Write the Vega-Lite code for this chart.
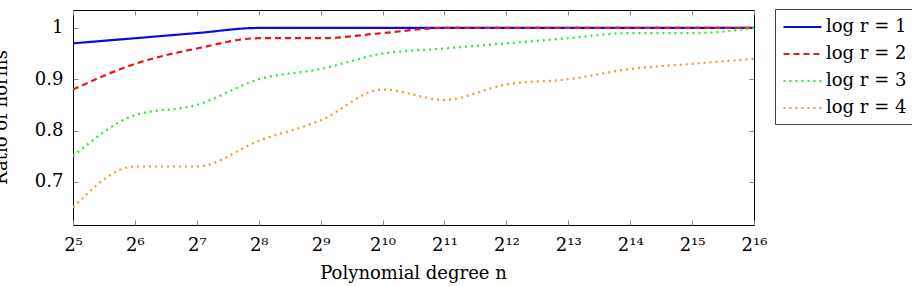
{
  "$schema": "https://vega.github.io/schema/vega-lite/v6.json",
  "autosize": {"type": "none"},
  "width": 681,
  "height": 215,
  "padding": {"left": 73, "top": 10, "right": 158, "bottom": 61},
  "background": "white",
  "config": {
    "view": {"stroke": "black", "strokeWidth": 1},
    "font": "DejaVu Serif",
    "axis": {
      "grid": false,
      "domain": false,
      "tickSize": -5,
      "tickColor": "#888888",
      "tickWidth": 1,
      "labelFont": "DejaVu Serif",
      "labelFontSize": 18,
      "labelColor": "black",
      "titleFont": "DejaVu Serif",
      "titleFontSize": 18,
      "titleFontWeight": "normal",
      "titleColor": "black"
    },
    "legend": {
      "orient": "none",
      "legendX": 702,
      "legendY": -1,
      "direction": "vertical",
      "strokeColor": "#444444",
      "fillColor": "white",
      "padding": 7,
      "cornerRadius": 0,
      "symbolType": "M-1,0H3",
      "symbolSize": 361,
      "symbolStrokeWidth": 2.2,
      "labelFont": "DejaVu Serif",
      "labelFontSize": 18,
      "labelColor": "black",
      "labelOffset": 22,
      "rowPadding": 7
    }
  },
  "data": {
    "values": [
      {"exp": 5, "ratio": 0.97, "s": "log r = 1"},
      {"exp": 6, "ratio": 0.98, "s": "log r = 1"},
      {"exp": 7, "ratio": 0.99, "s": "log r = 1"},
      {"exp": 8, "ratio": 1.0, "s": "log r = 1"},
      {"exp": 9, "ratio": 1.0, "s": "log r = 1"},
      {"exp": 10, "ratio": 1.0, "s": "log r = 1"},
      {"exp": 11, "ratio": 1.0, "s": "log r = 1"},
      {"exp": 12, "ratio": 1.0, "s": "log r = 1"},
      {"exp": 13, "ratio": 1.0, "s": "log r = 1"},
      {"exp": 14, "ratio": 1.0, "s": "log r = 1"},
      {"exp": 15, "ratio": 1.0, "s": "log r = 1"},
      {"exp": 16, "ratio": 1.0, "s": "log r = 1"},
      {"exp": 5, "ratio": 0.88, "s": "log r = 2"},
      {"exp": 6, "ratio": 0.93, "s": "log r = 2"},
      {"exp": 7, "ratio": 0.96, "s": "log r = 2"},
      {"exp": 8, "ratio": 0.98, "s": "log r = 2"},
      {"exp": 9, "ratio": 0.98, "s": "log r = 2"},
      {"exp": 10, "ratio": 0.99, "s": "log r = 2"},
      {"exp": 11, "ratio": 1.0, "s": "log r = 2"},
      {"exp": 12, "ratio": 1.0, "s": "log r = 2"},
      {"exp": 13, "ratio": 1.0, "s": "log r = 2"},
      {"exp": 14, "ratio": 1.0, "s": "log r = 2"},
      {"exp": 15, "ratio": 1.0, "s": "log r = 2"},
      {"exp": 16, "ratio": 1.0, "s": "log r = 2"},
      {"exp": 5, "ratio": 0.75, "s": "log r = 3"},
      {"exp": 6, "ratio": 0.83, "s": "log r = 3"},
      {"exp": 7, "ratio": 0.85, "s": "log r = 3"},
      {"exp": 8, "ratio": 0.9, "s": "log r = 3"},
      {"exp": 9, "ratio": 0.92, "s": "log r = 3"},
      {"exp": 10, "ratio": 0.95, "s": "log r = 3"},
      {"exp": 11, "ratio": 0.96, "s": "log r = 3"},
      {"exp": 12, "ratio": 0.97, "s": "log r = 3"},
      {"exp": 13, "ratio": 0.98, "s": "log r = 3"},
      {"exp": 14, "ratio": 0.99, "s": "log r = 3"},
      {"exp": 15, "ratio": 0.99, "s": "log r = 3"},
      {"exp": 16, "ratio": 1.0, "s": "log r = 3"},
      {"exp": 5, "ratio": 0.65, "s": "log r = 4"},
      {"exp": 6, "ratio": 0.73, "s": "log r = 4"},
      {"exp": 7, "ratio": 0.73, "s": "log r = 4"},
      {"exp": 8, "ratio": 0.78, "s": "log r = 4"},
      {"exp": 9, "ratio": 0.82, "s": "log r = 4"},
      {"exp": 10, "ratio": 0.88, "s": "log r = 4"},
      {"exp": 11, "ratio": 0.86, "s": "log r = 4"},
      {"exp": 12, "ratio": 0.89, "s": "log r = 4"},
      {"exp": 13, "ratio": 0.9, "s": "log r = 4"},
      {"exp": 14, "ratio": 0.92, "s": "log r = 4"},
      {"exp": 15, "ratio": 0.93, "s": "log r = 4"},
      {"exp": 16, "ratio": 0.94, "s": "log r = 4"}
    ]
  },
  "layer": [
    {
      "mark": {"type": "line", "interpolate": "monotone", "strokeWidth": 2.2, "clip": true},
      "encoding": {
        "x": {
          "field": "exp",
          "type": "quantitative",
          "scale": {"domain": [5, 16], "nice": false, "zero": false},
          "axis": {
            "orient": "bottom",
            "values": [5, 6, 7, 8, 9, 10, 11, 12, 13, 14, 15, 16],
            "labelExpr": "'2' + ['⁵','⁶','⁷','⁸','⁹','¹⁰','¹¹','¹²','¹³','¹⁴','¹⁵','¹⁶'][datum.value - 5]",
            "labelBaseline": "alphabetic",
            "labelPadding": 30,
            "labelFlush": false,
            "title": "Polynomial degree n",
            "titleX": 340,
            "titleY": 53,
            "titleBaseline": "alphabetic",
            "titleAlign": "center"
          }
        },
        "y": {
          "field": "ratio",
          "type": "quantitative",
          "scale": {"domain": [0.616, 1.035], "nice": false, "zero": false},
          "axis": {
            "orient": "left",
            "values": [0.7, 0.8, 0.9, 1.0],
            "format": "~g",
            "labelPadding": 15,
            "labelFlush": false,
            "title": "Ratio of norms",
            "titleAngle": -90,
            "titleX": -67,
            "titleY": 107,
            "titleBaseline": "alphabetic",
            "titleAlign": "center"
          }
        },
        "color": {
          "field": "s",
          "type": "nominal",
          "scale": {
            "domain": ["log r = 1", "log r = 2", "log r = 3", "log r = 4"],
            "range": ["#0a0ae6", "#e8161a", "#2ee82e", "#f29a30"]
          },
          "legend": {"title": null}
        },
        "strokeDash": {
          "field": "s",
          "type": "nominal",
          "scale": {
            "domain": ["log r = 1", "log r = 2", "log r = 3", "log r = 4"],
            "range": [[1, 0], [6, 4], [2, 4], [2, 4]]
          },
          "legend": {"title": null}
        }
      }
    },
    {
      "mark": {"type": "line", "strokeOpacity": 0},
      "encoding": {
        "x": {
          "field": "exp",
          "type": "quantitative",
          "axis": {
            "orient": "top",
            "values": [5, 6, 7, 8, 9, 10, 11, 12, 13, 14, 15, 16],
            "labels": false,
            "title": null
          }
        },
        "y": {
          "field": "ratio",
          "type": "quantitative",
          "axis": {
            "orient": "right",
            "values": [0.7, 0.8, 0.9, 1.0],
            "labels": false,
            "title": null
          }
        },
        "detail": {"field": "s", "type": "nominal"}
      }
    }
  ],
  "resolve": {"axis": {"x": "independent", "y": "independent"}}
}
